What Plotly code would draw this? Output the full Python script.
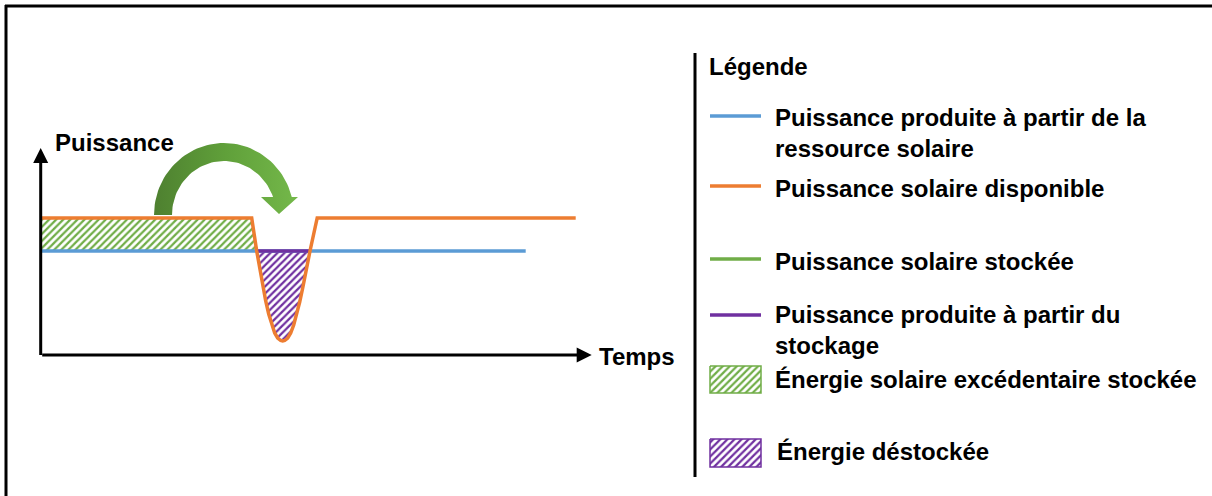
import numpy as np
import plotly.graph_objects as go

# ---------------- data (time / power units of the sketch) ----------------
t_available = [0, 211, 216, 219, 222, 225, 228, 231, 234, 237, 240, 242, 244, 247, 250, 253,
               256, 259, 262, 265, 268, 269.3, 276.5, 535]
p_available = [137, 137, 104, 86, 69, 54, 41, 30, 22, 17, 14.5, 14, 14.5, 17, 22, 30,
               40, 53, 67, 82, 99, 104, 137, 137]
t_resource = [0, 485]
p_resource = [104, 104]
t_storage = [216, 269.3]
p_storage = [104, 104]
time_axis_end = 551
power_axis_end = 207

axis_x_label = "Temps"
axis_y_label = "Puissance"
legend_title = "Légende"
legend_line_labels = [
    "Puissance produite à partir de la<br>ressource solaire",
    "Puissance solaire disponible",
    "Puissance solaire stockée",
    "Puissance produite à partir du<br>stockage",
]
legend_fill_labels = [
    "Énergie solaire excédentaire stockée",
    "Énergie déstockée",
]

# ---------------- style ----------------
W, H = 1212, 496
X0_PX, Y0_PX = 40.7, 355.0          # pixel position of the origin
BLUE, ORANGE, GREEN, PURPLE = "#5B9BD5", "#ED7D31", "#70AD47", "#7030A0"
FONT = "Liberation Sans, Arial, sans-serif"
FS = 24
HATCH_SIZE, HATCH_SOLID = 5, 0.45


def dx(px):
    return px - X0_PX


def dy(py):
    return Y0_PX - py


def hatch(color):
    return dict(shape="/", fgcolor=color, fgopacity=1, bgcolor="white",
                size=HATCH_SIZE, solidity=HATCH_SOLID)


fig = go.Figure()

# green hatched area: available power above resource power before the dip
blue_level = p_resource[0]
g_t, g_p = [], []
for t, p in zip(t_available, p_available):
    g_t.append(t)
    g_p.append(p)
    if p <= blue_level:
        break
g_t.append(t_available[0])
g_p.append(blue_level)
fig.add_trace(go.Scatter(
    x=g_t, y=g_p, mode="lines", fill="toself", line=dict(width=0),
    fillcolor="rgba(0,0,0,0)", fillpattern=hatch(GREEN), hoverinfo="skip"))

# purple hatched area: under the storage line, inside the dip
pu_t = [t for t, p in zip(t_available, p_available) if t_storage[0] <= t <= t_storage[1]]
pu_p = [p for t, p in zip(t_available, p_available) if t_storage[0] <= t <= t_storage[1]]
fig.add_trace(go.Scatter(
    x=pu_t, y=pu_p, mode="lines", fill="toself", line=dict(width=0),
    fillcolor="rgba(0,0,0,0)", fillpattern=hatch(PURPLE), hoverinfo="skip"))

# lines
fig.add_trace(go.Scatter(x=t_resource, y=p_resource, mode="lines",
                         line=dict(color=BLUE, width=3.5), hoverinfo="skip"))
fig.add_trace(go.Scatter(x=t_storage, y=p_storage, mode="lines",
                         line=dict(color=PURPLE, width=3.5), hoverinfo="skip"))
fig.add_trace(go.Scatter(x=t_available, y=p_available, mode="lines",
                         line=dict(color=ORANGE, width=3.5), hoverinfo="skip"))

# curved green arrow (decorative)
cx, cy = dx(224), dy(215)
ro_x, ro_y = 70, 72
ri_x, ri_y = 52, 54
end_h = 18
a_out = np.arcsin(end_h / ro_y)
a_in = np.arcsin(end_h / ri_y)
th_o = np.linspace(np.pi, a_out, 60)
th_i = np.linspace(a_in, np.pi, 60)
ax_x = list(cx + ro_x * np.cos(th_o)) + [dx(298), dx(279), dx(261)] + list(cx + ri_x * np.cos(th_i))
ax_y = list(cy + ro_y * np.sin(th_o)) + [cy + end_h, dy(214), cy + end_h] + list(cy + ri_y * np.sin(th_i))
fig.add_trace(go.Scatter(
    x=ax_x, y=ax_y, mode="lines", fill="toself", line=dict(width=0),
    fillgradient=dict(type="horizontal", colorscale=[[0, "#4E8030"], [0.5, "#60A03A"], [1, "#74B84A"]]),
    hoverinfo="skip"))

# legend swatches (lines)
legend_line_colors = [BLUE, ORANGE, GREEN, PURPLE]
legend_line_y = [116, 186, 259, 315]
for c, yy in zip(legend_line_colors, legend_line_y):
    fig.add_trace(go.Scatter(x=[dx(710), dx(761)], y=[dy(yy), dy(yy)], mode="lines",
                             line=dict(color=c, width=3.5), hoverinfo="skip"))

# legend swatches (hatched boxes)
for c, (y0, y1) in zip([GREEN, PURPLE], [(366, 393), (439, 467)]):
    fig.add_trace(go.Scatter(
        x=[dx(710), dx(761), dx(761), dx(710), dx(710)],
        y=[dy(y0), dy(y0), dy(y1), dy(y1), dy(y0)],
        mode="lines", fill="toself", line=dict(color=c, width=1.5),
        fillcolor="rgba(0,0,0,0)", fillpattern=hatch(c), hoverinfo="skip"))

annotations = []
# axes arrows
annotations.append(dict(x=time_axis_end, y=0, ax=0, ay=0, xref="x", yref="y", axref="x", ayref="y",
                        text="", showarrow=True, arrowhead=2, arrowsize=1, arrowwidth=3,
                        arrowcolor="black", standoff=0))
annotations.append(dict(x=0, y=power_axis_end, ax=0, ay=-1.5, xref="x", yref="y", axref="x", ayref="y",
                        text="", showarrow=True, arrowhead=2, arrowsize=1, arrowwidth=3,
                        arrowcolor="black", standoff=0))


def label(text, px, py, size=FS):
    annotations.append(dict(x=dx(px), y=dy(py), xref="x", yref="y", text="<b>" + text + "</b>",
                            showarrow=False, xanchor="left", yanchor="middle", align="left",
                            font=dict(family=FONT, size=size, color="black")))


label(axis_y_label, 53, 142)
label(axis_x_label, 597, 356)
label(legend_title, 707, 66)
label(legend_line_labels[0], 773, 133)
label(legend_line_labels[1], 773, 188)
label(legend_line_labels[2], 773, 261)
label(legend_line_labels[3], 773, 330)
label(legend_fill_labels[0], 773, 379)
label(legend_fill_labels[1], 775, 451)

shapes = [
    dict(type="line", xref="paper", yref="paper", x0=5 / W, x1=1, y0=1 - 6 / H, y1=1 - 6 / H,
         line=dict(color="black", width=3)),
    dict(type="line", xref="paper", yref="paper", x0=6 / W, x1=6 / W, y0=0, y1=1 - 5 / H,
         line=dict(color="black", width=3)),
    dict(type="line", xref="paper", yref="paper", x0=695 / W, x1=695 / W, y0=1 - 53 / H, y1=1 - 477 / H,
         line=dict(color="black", width=3)),
]

fig.update_layout(
    width=W, height=H, margin=dict(l=0, r=0, t=0, b=0),
    paper_bgcolor="white", plot_bgcolor="white", showlegend=False,
    xaxis=dict(range=[dx(0), dx(W)], visible=False, fixedrange=True),
    yaxis=dict(range=[dy(H), dy(0)], visible=False, fixedrange=True),
    annotations=annotations, shapes=shapes,
)

fig.write_html(
    "out.html",
    config={"displayModeBar": False},
    post_script="document.body.style.margin='0';document.body.style.overflow='hidden';",
)
